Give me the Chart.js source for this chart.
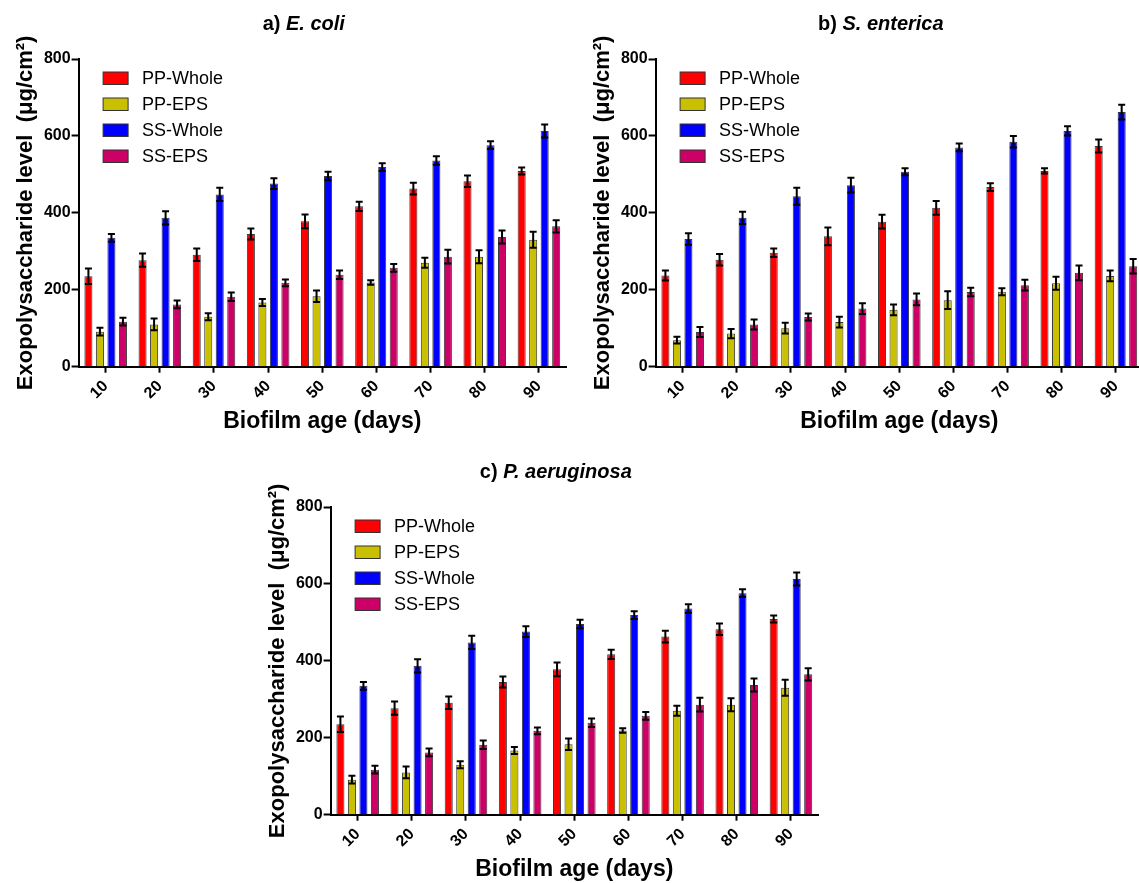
<!DOCTYPE html>
<html><head><meta charset="utf-8">
<script src="https://cdn.jsdelivr.net/npm/chart.js@4.4.0/dist/chart.umd.min.js"></script>
<style>
html,body{margin:0;padding:0;background:#fff;overflow:hidden;width:1139px;height:883px;position:relative;}
canvas{position:absolute;}
</style></head><body>
<canvas id="chartA" width="570" height="445" style="left:0px;top:0px"></canvas>
<canvas id="chartB" width="570" height="445" style="left:577px;top:0px"></canvas>
<canvas id="chartC" width="570" height="445" style="left:252px;top:448px"></canvas>
<script>
// ---------- data ----------
const categories = ['10', '20', '30', '40', '50', '60', '70', '80', '90'];
const seriesNames = ['PP-Whole', 'PP-EPS', 'SS-Whole', 'SS-EPS'];
const seriesColors = ['#FF0000', '#C8C000', '#0000FF', '#CC0066'];
const yTickStep = 200;
const yMax = 800;
const xAxisTitle = 'Biofilm age (days)';
const yAxisTitle = 'Exopolysaccharide level  (μg/cm²)';

// a) E. coli
const ecoliPPWhole    = [235, 277, 291, 345, 378, 417, 463, 482, 509];
const ecoliPPWholeErr = [20, 17, 16, 14, 18, 12, 15, 15, 9];
const ecoliPPEPS      = [91, 110, 130, 167, 183, 219, 270, 286, 330];
const ecoliPPEPSErr   = [10, 15, 9, 9, 15, 6, 13, 17, 21];
const ecoliSSWhole    = [335, 387, 448, 476, 496, 519, 536, 576, 613];
const ecoliSSWholeErr = [10, 17, 17, 14, 11, 10, 11, 10, 17];
const ecoliSSEPS      = [117, 162, 182, 218, 239, 257, 286, 337, 365];
const ecoliSSEPSErr   = [10, 10, 11, 9, 11, 10, 18, 17, 16];

// b) S. enterica
const sentPPWhole    = [237, 278, 296, 339, 377, 413, 467, 509, 574];
const sentPPWholeErr = [13, 15, 11, 23, 18, 18, 10, 7, 17];
const sentPPEPS      = [69, 86, 100, 116, 148, 173, 195, 217, 236];
const sentPPEPSErr   = [9, 12, 14, 14, 14, 23, 9, 17, 14];
const sentSSWhole    = [332, 387, 443, 472, 507, 570, 585, 613, 662];
const sentSSWholeErr = [15, 16, 22, 19, 9, 10, 15, 12, 19];
const sentSSEPS      = [90, 110, 129, 151, 175, 194, 212, 244, 261];
const sentSSEPSErr   = [13, 13, 9, 14, 15, 11, 14, 19, 19];

// c) P. aeruginosa
const paerPPWhole    = [235, 277, 291, 345, 378, 417, 463, 482, 509];
const paerPPWholeErr = [20, 17, 16, 14, 18, 12, 15, 15, 9];
const paerPPEPS      = [91, 110, 130, 167, 183, 219, 270, 286, 330];
const paerPPEPSErr   = [10, 15, 9, 9, 15, 6, 13, 17, 21];
const paerSSWhole    = [335, 387, 448, 476, 496, 519, 536, 576, 613];
const paerSSWholeErr = [10, 17, 17, 14, 11, 10, 11, 10, 17];
const paerSSEPS      = [117, 162, 182, 218, 239, 257, 286, 337, 365];
const paerSSEPSErr   = [10, 10, 11, 9, 11, 10, 18, 17, 16];

// ---------- plugins ----------
const FONT = '"Liberation Sans", Arial, Helvetica, sans-serif';

const errorBarPlugin = {
  id: 'errorBars',
  afterDatasetsDraw(chart) {
    const ctx = chart.ctx, y = chart.scales.y;
    chart.data.datasets.forEach((ds, di) => {
      const meta = chart.getDatasetMeta(di);
      meta.data.forEach((bar, i) => {
        const v = ds.data[i], e = ds.errors[i];
        const yT = y.getPixelForValue(v + e), yB = y.getPixelForValue(v - e);
        const x = bar.x;
        ctx.save();
        ctx.strokeStyle = '#000';
        ctx.lineWidth = 2;
        ctx.beginPath();
        ctx.moveTo(x, yT); ctx.lineTo(x, yB);
        ctx.moveTo(x - 3.5, yT); ctx.lineTo(x + 3.5, yT);
        ctx.moveTo(x - 3.5, yB); ctx.lineTo(x + 3.5, yB);
        ctx.stroke();
        ctx.restore();
      });
    });
  }
};

const boxLegendPlugin = {
  id: 'boxLegend',
  afterDraw(chart) {
    const {ctx, chartArea} = chart;
    ctx.save();
    chart.data.datasets.forEach((ds, i) => {
      const bx = chartArea.left + 24.5, by = chartArea.top + 13 + i * 26;
      ctx.fillStyle = ds.backgroundColor;
      ctx.fillRect(bx, by, 25, 12.5);
      ctx.strokeStyle = '#333';
      ctx.lineWidth = 1;
      ctx.strokeRect(bx, by, 25, 12.5);
      ctx.fillStyle = '#000';
      ctx.font = '18px ' + FONT;
      ctx.textBaseline = 'middle';
      ctx.textAlign = 'left';
      ctx.fillText(ds.label, chartArea.left + 63.5, by + 7);
    });
    ctx.restore();
  }
};

const panelTitlePlugin = {
  id: 'panelTitle',
  afterDraw(chart, args, opts) {
    const {ctx, chartArea} = chart;
    const cx = (chartArea.left + chartArea.right) / 2 - 18.5;
    const cy = chartArea.top - 35;
    const f1 = 'bold 20px ' + FONT, f2 = 'italic bold 20px ' + FONT;
    ctx.save();
    ctx.fillStyle = '#000';
    ctx.textBaseline = 'middle';
    ctx.textAlign = 'left';
    ctx.font = f1; const w1 = ctx.measureText(opts.prefix).width;
    ctx.font = f2; const w2 = ctx.measureText(opts.species).width;
    const x0 = cx - (w1 + w2) / 2;
    ctx.font = f1; ctx.fillText(opts.prefix, x0, cy);
    ctx.font = f2; ctx.fillText(opts.species, x0 + w1, cy);
    ctx.restore();
  }
};

function makeChart(id, values, errors, prefix, species) {
  return new Chart(document.getElementById(id), {
    type: 'bar',
    data: {
      labels: categories,
      datasets: seriesNames.map((name, i) => ({
        label: name,
        data: values[i],
        errors: errors[i],
        backgroundColor: seriesColors[i],
        borderColor: '#3a3a3a',
        borderWidth: 1,
        categoryPercentage: 0.85,
        barPercentage: 0.7
      }))
    },
    options: {
      responsive: false,
      animation: false,
      layout: {padding: {top: 59, right: 4, left: 0, bottom: 0}},
      plugins: {
        legend: {display: false},
        title: {display: false},
        tooltip: {enabled: false},
        panelTitle: {prefix: prefix, species: species}
      },
      scales: {
        x: {
          offset: true,
          grid: {display: true, drawOnChartArea: false, offset: false, tickLength: 6, tickWidth: 2, tickColor: '#000'},
          border: {display: true, color: '#000', width: 2},
          ticks: {autoSkip: false, minRotation: 45, maxRotation: 45, padding: 4, color: '#000',
                  font: {family: FONT, size: 16, weight: 'bold'}},
          title: {display: true, text: xAxisTitle, color: '#000',
                  font: {family: FONT, size: 23, weight: 'bold'}, padding: {top: 0, bottom: 10}},
          afterFit(scale) { scale.height = 78.3; }
        },
        y: {
          min: 0, max: yMax,
          grid: {drawOnChartArea: false, tickLength: 7, tickWidth: 2, tickColor: '#000'},
          border: {display: true, color: '#000', width: 2},
          ticks: {stepSize: yTickStep, padding: 1, color: '#000',
                  font: {family: FONT, size: 16, weight: 'bold'}},
          title: {display: true, text: yAxisTitle, color: '#000',
                  font: {family: FONT, size: 22, weight: 'bold'}, padding: {top: 12.5, bottom: 0}},
          afterFit(scale) { scale.width = 78.6; }
        }
      }
    },
    plugins: [errorBarPlugin, boxLegendPlugin, panelTitlePlugin]
  });
}

makeChart('chartA',
  [ecoliPPWhole, ecoliPPEPS, ecoliSSWhole, ecoliSSEPS],
  [ecoliPPWholeErr, ecoliPPEPSErr, ecoliSSWholeErr, ecoliSSEPSErr],
  'a) ', 'E. coli');
makeChart('chartB',
  [sentPPWhole, sentPPEPS, sentSSWhole, sentSSEPS],
  [sentPPWholeErr, sentPPEPSErr, sentSSWholeErr, sentSSEPSErr],
  'b) ', 'S. enterica');
makeChart('chartC',
  [paerPPWhole, paerPPEPS, paerSSWhole, paerSSEPS],
  [paerPPWholeErr, paerPPEPSErr, paerSSWholeErr, paerSSEPSErr],
  'c) ', 'P. aeruginosa');
</script>
</body></html>
